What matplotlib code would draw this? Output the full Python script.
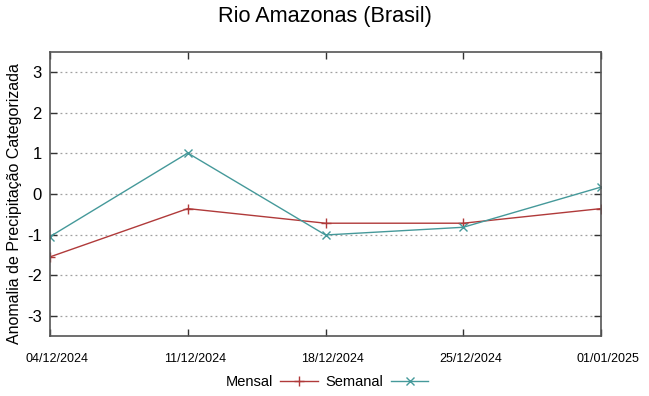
import matplotlib
matplotlib.use("Agg")
import matplotlib.pyplot as plt
import matplotlib.font_manager as fm
import matplotlib.transforms as mtransforms

datas = ["04/12/2024", "11/12/2024", "18/12/2024", "25/12/2024", "01/01/2025"]
mensal = [-1.55, -0.36, -0.72, -0.72, -0.36]
semanal = [-1.05, 1.01, -1.01, -0.82, 0.17]
yticks = [-3, -2, -1, 0, 1, 2, 3]

names = {f.name for f in fm.fontManager.ttflist}
narrow = "Liberation Sans Narrow" if "Liberation Sans Narrow" in names else "Liberation Sans"

plt.rcParams["font.family"] = "Liberation Sans"

fig = plt.figure(figsize=(6.49, 3.96), dpi=100)
ax = fig.add_axes([50 / 649, 1 - 336 / 396, 551 / 649, 284 / 396])

x = list(range(len(datas)))
ax.plot(x, mensal, color="#b03a3a", lw=1.0, marker="+", ms=7, mew=1.0, label="Mensal")
ax.plot(x, semanal, color="#45999a", lw=1.0, marker="x", ms=6, mew=1.0, label="Semanal")

ax.set_xlim(0, len(datas) - 1)
ax.set_ylim(-3.5, 3.5)
ax.set_xticks(x)
ax.set_xticklabels(datas, fontsize=9, family=narrow)
ax.set_yticks(yticks)
ax.set_yticklabels([str(v) for v in yticks], fontsize=12)
ax.tick_params(direction="in", top=True, right=True, length=5, width=1, color="#333333")
ax.tick_params(axis="x", pad=12)
ax.tick_params(axis="y", pad=6)

# gnuplot shifts the date labels a little to the right of their ticks
shift = mtransforms.ScaledTranslation(7 / 100, 0, fig.dpi_scale_trans)
for lbl in ax.get_xticklabels():
    lbl.set_transform(lbl.get_transform() + shift)

ax.yaxis.grid(True, linestyle=(0, (1.5, 2.5)), color="#a0a0a0", lw=0.9)
ax.set_axisbelow(True)
for s in ax.spines.values():
    s.set_color("#555555")
    s.set_linewidth(1.2)

ax.set_ylabel("Anomalia de Precipitação Categorizada", fontsize=11.5)
ax.yaxis.set_label_coords(-0.05, 0.468)
fig.suptitle("Rio Amazonas (Brasil)", fontsize=15.6, y=0.985)

fig.legend(loc="center", bbox_to_anchor=(327 / 649, 1 - 382 / 396), ncol=2,
           frameon=False, markerfirst=False, fontsize=10.5, handlelength=2.6,
           columnspacing=0.5, handletextpad=0.5)

fig.savefig("out.png", dpi=100)
